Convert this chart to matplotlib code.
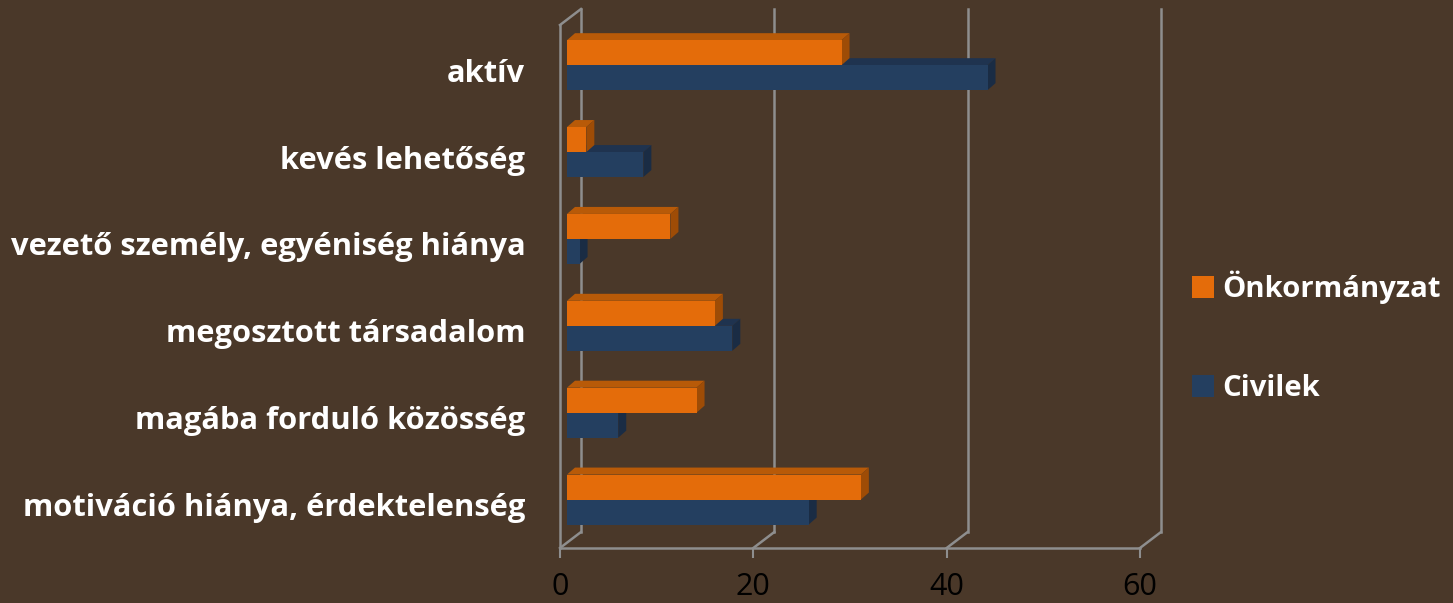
import matplotlib
matplotlib.use("Agg")
import matplotlib.pyplot as plt
import matplotlib.transforms as mtransforms
from matplotlib.patches import Polygon, Patch
from matplotlib.lines import Line2D

categories = ["motiváció hiánya, érdektelenség", "magába forduló közösség",
              "megosztott társadalom", "vezető személy, egyéniség hiánya",
              "kevés lehetőség", "aktív"]
onkormanyzat = [30.4, 13.4, 15.3, 10.7, 2.0, 28.4]
civilek = [25.0, 5.3, 17.1, 1.3, 7.9, 43.5]
series_names = ["Önkormányzat", "Civilek"]
xticks = [0, 20, 40, 60]

BG = "#4A3829"
GRID = "#8E8E8E"
OR_FRONT, OR_TOP, OR_SIDE = "#E46C0A", "#B85A08", "#9E4C06"
BL_FRONT, BL_TOP, BL_SIDE = "#243F60", "#1F334F", "#1A2C44"
FONT = "Open Sans"

W, H, DPI = 1453, 603, 100
fig = plt.figure(figsize=(W / DPI, H / DPI), dpi=DPI, facecolor=BG)
ax = fig.add_axes([560 / W, (H - 548) / H, 580 / W, 523 / H])
ax.set_facecolor("none")
ax.set_xlim(0, 60)
ax.set_ylim(-0.5, 5.52)

for s in ["top", "right"]:
    ax.spines[s].set_visible(False)
for s in ["left", "bottom"]:
    ax.spines[s].set_color(GRID)
    ax.spines[s].set_linewidth(1.8)

ax.set_xticks(xticks)
ax.set_xticklabels([str(t) for t in xticks], fontsize=22, color="black", family=FONT)
ax.tick_params(axis="x", length=7, width=1.5, color=GRID, pad=10)
ax.set_yticks(range(len(categories)))
ylabels = ax.set_yticklabels(categories, fontsize=19, color="white", family=FONT, fontweight="bold")
ax.tick_params(axis="y", length=0, pad=25)

fig.canvas.draw()
renderer = fig.canvas.get_renderer()
# fit label font size so the longest label is ~500 px wide
w0 = max(t.get_window_extent(renderer).width for t in ylabels)
fs = 19 * 512 / w0
for t in ylabels:
    t.set_fontsize(fs)

handles = [Patch(facecolor=OR_FRONT, edgecolor="none"), Patch(facecolor=BL_FRONT, edgecolor="none")]
leg = fig.legend(handles, series_names, loc="center left", bbox_to_anchor=(1192 / W, 1 - 337 / H),
                 frameon=False, prop={"family": FONT, "weight": "bold", "size": fs * 0.95},
                 handlelength=0.75, handleheight=0.75, handletextpad=0.3, labelspacing=2.4,
                 borderaxespad=0, borderpad=0)
for t in leg.get_texts():
    t.set_color("white")

fig.canvas.draw()
ident = mtransforms.IdentityTransform()

WALL_DX, WALL_DY = 21, 16      # depth of chart box in pixels
BAR_OX, BAR_OY = 7, 5          # bar front plane offset from front plane
BAR_DX, BAR_DY = 8, 7          # bar depth


def disp(x, y, ox=0, oy=0):
    p = ax.transData.transform((x, y))
    return (p[0] + ox, p[1] + oy)


y0, y1 = ax.get_ylim()
for t in xticks:
    a = disp(t, y0, WALL_DX, WALL_DY)
    b = disp(t, y1, WALL_DX, WALL_DY)
    fig.add_artist(Line2D([a[0], b[0]], [a[1], b[1]], transform=ident, color=GRID, lw=1.8, zorder=1))
    c = disp(t, y0)
    fig.add_artist(Line2D([c[0], a[0]], [c[1], a[1]], transform=ident, color=GRID, lw=1.8, zorder=1))
a = disp(0, y1)
b = disp(0, y1, WALL_DX, WALL_DY)
fig.add_artist(Line2D([a[0], b[0]], [a[1], b[1]], transform=ident, color=GRID, lw=1.8, zorder=1))

bh = 25 / (ax.transData.transform((0, 1))[1] - ax.transData.transform((0, 0))[1])


def bar3d(v, yb, front, top, side):
    p = [disp(0, yb, BAR_OX, BAR_OY), disp(v, yb, BAR_OX, BAR_OY),
         disp(v, yb + bh, BAR_OX, BAR_OY), disp(0, yb + bh, BAR_OX, BAR_OY)]
    tp = [p[3], p[2], (p[2][0] + BAR_DX, p[2][1] + BAR_DY), (p[3][0] + BAR_DX, p[3][1] + BAR_DY)]
    sp = [p[1], p[2], (p[2][0] + BAR_DX, p[2][1] + BAR_DY), (p[1][0] + BAR_DX, p[1][1] + BAR_DY)]
    for poly, col in [(tp, top), (sp, side), (p, front)]:
        fig.add_artist(Polygon(poly, closed=True, transform=ident, facecolor=col,
                               edgecolor="none", zorder=3))


for i in range(len(categories)):
    bar3d(civilek[i], i - bh, BL_FRONT, BL_TOP, BL_SIDE)
    bar3d(onkormanyzat[i], i, OR_FRONT, OR_TOP, OR_SIDE)

fig.savefig("out.png", dpi=DPI, facecolor=BG)
